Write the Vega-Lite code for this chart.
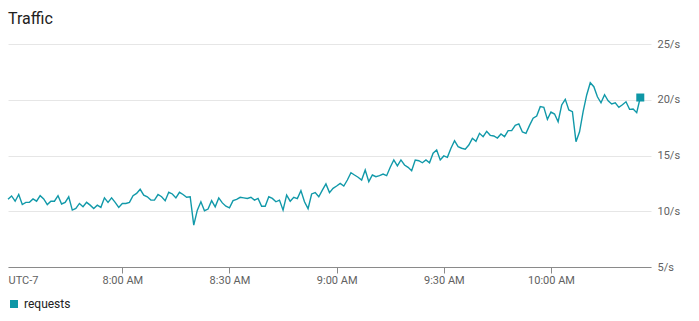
{
  "$schema": "https://vega.github.io/schema/vega-lite/v6.json",
  "width": 643,
  "height": 223,
  "autosize": {"type": "none"},
  "padding": {"left": 8, "top": 44, "right": 48, "bottom": 54},
  "background": "white",
  "title": {"text": "Traffic", "anchor": "start", "frame": "group", "font": "Roboto", "fontSize": 16, "fontWeight": "normal", "color": "#212121", "offset": 11},
  "config": {
    "view": {"stroke": null},
    "font": "Roboto",
    "axis": {"labelFont": "Roboto", "labelFontSize": 11, "labelColor": "#616161"},
    "legend": {"labelFont": "Roboto", "labelFontSize": 12, "labelColor": "#212121"}
  },
  "datasets": {
    "series": [
      {"t": "2024-01-01T07:28", "v": 11.07}, {"t": "2024-01-01T07:29", "v": 11.37}, {"t": "2024-01-01T07:30", "v": 10.9}, {"t": "2024-01-01T07:31", "v": 11.5},
      {"t": "2024-01-01T07:32", "v": 10.6}, {"t": "2024-01-01T07:33", "v": 10.8}, {"t": "2024-01-01T07:34", "v": 10.8}, {"t": "2024-01-01T07:35", "v": 11.1},
      {"t": "2024-01-01T07:36", "v": 10.9}, {"t": "2024-01-01T07:37", "v": 11.4}, {"t": "2024-01-01T07:38", "v": 11.1}, {"t": "2024-01-01T07:39", "v": 10.6},
      {"t": "2024-01-01T07:40", "v": 10.9}, {"t": "2024-01-01T07:41", "v": 10.9}, {"t": "2024-01-01T07:42", "v": 11.4}, {"t": "2024-01-01T07:43", "v": 10.65},
      {"t": "2024-01-01T07:44", "v": 10.8}, {"t": "2024-01-01T07:45", "v": 11.3}, {"t": "2024-01-01T07:46", "v": 10.1}, {"t": "2024-01-01T07:47", "v": 10.25},
      {"t": "2024-01-01T07:48", "v": 10.7}, {"t": "2024-01-01T07:49", "v": 10.4}, {"t": "2024-01-01T07:50", "v": 10.8}, {"t": "2024-01-01T07:51", "v": 10.55},
      {"t": "2024-01-01T07:52", "v": 10.25}, {"t": "2024-01-01T07:53", "v": 10.55}, {"t": "2024-01-01T07:54", "v": 10.35}, {"t": "2024-01-01T07:55", "v": 11.2},
      {"t": "2024-01-01T07:56", "v": 10.8}, {"t": "2024-01-01T07:57", "v": 11.2}, {"t": "2024-01-01T07:58", "v": 10.8}, {"t": "2024-01-01T07:59", "v": 10.35},
      {"t": "2024-01-01T08:00", "v": 10.7}, {"t": "2024-01-01T08:01", "v": 10.7}, {"t": "2024-01-01T08:02", "v": 10.8}, {"t": "2024-01-01T08:03", "v": 11.4},
      {"t": "2024-01-01T08:04", "v": 11.6}, {"t": "2024-01-01T08:05", "v": 11.97}, {"t": "2024-01-01T08:06", "v": 11.45}, {"t": "2024-01-01T08:07", "v": 11.3},
      {"t": "2024-01-01T08:08", "v": 11.0}, {"t": "2024-01-01T08:09", "v": 11.0}, {"t": "2024-01-01T08:10", "v": 11.5}, {"t": "2024-01-01T08:11", "v": 11.3},
      {"t": "2024-01-01T08:12", "v": 10.95}, {"t": "2024-01-01T08:13", "v": 11.7}, {"t": "2024-01-01T08:14", "v": 11.55}, {"t": "2024-01-01T08:15", "v": 11.2},
      {"t": "2024-01-01T08:16", "v": 11.7}, {"t": "2024-01-01T08:17", "v": 11.5}, {"t": "2024-01-01T08:18", "v": 11.25}, {"t": "2024-01-01T08:19", "v": 11.3},
      {"t": "2024-01-01T08:20", "v": 8.75}, {"t": "2024-01-01T08:21", "v": 10.1}, {"t": "2024-01-01T08:22", "v": 10.85}, {"t": "2024-01-01T08:23", "v": 10.05},
      {"t": "2024-01-01T08:24", "v": 10.2}, {"t": "2024-01-01T08:25", "v": 10.95}, {"t": "2024-01-01T08:26", "v": 10.4}, {"t": "2024-01-01T08:27", "v": 11.2},
      {"t": "2024-01-01T08:28", "v": 10.75}, {"t": "2024-01-01T08:29", "v": 10.45}, {"t": "2024-01-01T08:30", "v": 10.3}, {"t": "2024-01-01T08:31", "v": 10.95},
      {"t": "2024-01-01T08:32", "v": 11.07}, {"t": "2024-01-01T08:33", "v": 11.25}, {"t": "2024-01-01T08:34", "v": 11.2}, {"t": "2024-01-01T08:35", "v": 11.15},
      {"t": "2024-01-01T08:36", "v": 11.25}, {"t": "2024-01-01T08:37", "v": 11.0}, {"t": "2024-01-01T08:38", "v": 11.15}, {"t": "2024-01-01T08:39", "v": 10.45},
      {"t": "2024-01-01T08:40", "v": 10.45}, {"t": "2024-01-01T08:41", "v": 11.3}, {"t": "2024-01-01T08:42", "v": 11.15}, {"t": "2024-01-01T08:43", "v": 10.85},
      {"t": "2024-01-01T08:44", "v": 11.0}, {"t": "2024-01-01T08:45", "v": 10.1}, {"t": "2024-01-01T08:46", "v": 11.45}, {"t": "2024-01-01T08:47", "v": 10.9},
      {"t": "2024-01-01T08:48", "v": 11.25}, {"t": "2024-01-01T08:49", "v": 11.13}, {"t": "2024-01-01T08:50", "v": 11.85}, {"t": "2024-01-01T08:51", "v": 10.85},
      {"t": "2024-01-01T08:52", "v": 10.23}, {"t": "2024-01-01T08:53", "v": 11.55}, {"t": "2024-01-01T08:54", "v": 11.67}, {"t": "2024-01-01T08:55", "v": 11.3},
      {"t": "2024-01-01T08:56", "v": 11.9}, {"t": "2024-01-01T08:57", "v": 12.45}, {"t": "2024-01-01T08:58", "v": 11.67}, {"t": "2024-01-01T08:59", "v": 12.05},
      {"t": "2024-01-01T09:00", "v": 12.26}, {"t": "2024-01-01T09:01", "v": 12.5}, {"t": "2024-01-01T09:02", "v": 12.26}, {"t": "2024-01-01T09:03", "v": 12.8},
      {"t": "2024-01-01T09:04", "v": 13.46}, {"t": "2024-01-01T09:05", "v": 13.25}, {"t": "2024-01-01T09:06", "v": 13.05}, {"t": "2024-01-01T09:07", "v": 12.8},
      {"t": "2024-01-01T09:08", "v": 13.7}, {"t": "2024-01-01T09:09", "v": 12.65}, {"t": "2024-01-01T09:10", "v": 13.25}, {"t": "2024-01-01T09:11", "v": 13.1},
      {"t": "2024-01-01T09:12", "v": 13.19}, {"t": "2024-01-01T09:13", "v": 13.34}, {"t": "2024-01-01T09:14", "v": 13.19}, {"t": "2024-01-01T09:15", "v": 13.94},
      {"t": "2024-01-01T09:16", "v": 14.6}, {"t": "2024-01-01T09:17", "v": 14.06}, {"t": "2024-01-01T09:18", "v": 14.6}, {"t": "2024-01-01T09:19", "v": 14.15},
      {"t": "2024-01-01T09:20", "v": 13.94}, {"t": "2024-01-01T09:21", "v": 13.64}, {"t": "2024-01-01T09:22", "v": 14.6}, {"t": "2024-01-01T09:23", "v": 14.53},
      {"t": "2024-01-01T09:24", "v": 14.35}, {"t": "2024-01-01T09:25", "v": 14.6}, {"t": "2024-01-01T09:26", "v": 14.35}, {"t": "2024-01-01T09:27", "v": 15.2},
      {"t": "2024-01-01T09:28", "v": 15.5}, {"t": "2024-01-01T09:29", "v": 14.6}, {"t": "2024-01-01T09:30", "v": 14.96}, {"t": "2024-01-01T09:31", "v": 14.84},
      {"t": "2024-01-01T09:32", "v": 15.65}, {"t": "2024-01-01T09:33", "v": 16.33}, {"t": "2024-01-01T09:34", "v": 15.79}, {"t": "2024-01-01T09:35", "v": 15.65},
      {"t": "2024-01-01T09:36", "v": 15.56}, {"t": "2024-01-01T09:37", "v": 15.94}, {"t": "2024-01-01T09:38", "v": 16.54}, {"t": "2024-01-01T09:39", "v": 16.27},
      {"t": "2024-01-01T09:40", "v": 16.99}, {"t": "2024-01-01T09:41", "v": 16.69}, {"t": "2024-01-01T09:42", "v": 17.17}, {"t": "2024-01-01T09:43", "v": 16.81},
      {"t": "2024-01-01T09:44", "v": 16.75}, {"t": "2024-01-01T09:45", "v": 16.57}, {"t": "2024-01-01T09:46", "v": 16.93}, {"t": "2024-01-01T09:47", "v": 16.69},
      {"t": "2024-01-01T09:48", "v": 17.23}, {"t": "2024-01-01T09:49", "v": 17.23}, {"t": "2024-01-01T09:50", "v": 17.71}, {"t": "2024-01-01T09:51", "v": 17.83},
      {"t": "2024-01-01T09:52", "v": 17.11}, {"t": "2024-01-01T09:53", "v": 16.99}, {"t": "2024-01-01T09:54", "v": 17.7}, {"t": "2024-01-01T09:55", "v": 18.34},
      {"t": "2024-01-01T09:56", "v": 18.54}, {"t": "2024-01-01T09:57", "v": 19.38}, {"t": "2024-01-01T09:58", "v": 19.32}, {"t": "2024-01-01T09:59", "v": 18.24},
      {"t": "2024-01-01T10:00", "v": 18.9}, {"t": "2024-01-01T10:01", "v": 18.72}, {"t": "2024-01-01T10:02", "v": 18.03}, {"t": "2024-01-01T10:03", "v": 19.53},
      {"t": "2024-01-01T10:04", "v": 20.04}, {"t": "2024-01-01T10:05", "v": 19.08}, {"t": "2024-01-01T10:06", "v": 18.93}, {"t": "2024-01-01T10:07", "v": 16.24},
      {"t": "2024-01-01T10:08", "v": 17.13}, {"t": "2024-01-01T10:09", "v": 18.93}, {"t": "2024-01-01T10:10", "v": 20.43}, {"t": "2024-01-01T10:11", "v": 21.53},
      {"t": "2024-01-01T10:12", "v": 21.17}, {"t": "2024-01-01T10:13", "v": 20.27}, {"t": "2024-01-01T10:14", "v": 19.73}, {"t": "2024-01-01T10:15", "v": 20.45},
      {"t": "2024-01-01T10:16", "v": 19.91}, {"t": "2024-01-01T10:17", "v": 19.62}, {"t": "2024-01-01T10:18", "v": 19.73}, {"t": "2024-01-01T10:19", "v": 19.32},
      {"t": "2024-01-01T10:20", "v": 19.55}, {"t": "2024-01-01T10:21", "v": 19.82}, {"t": "2024-01-01T10:22", "v": 19.14}, {"t": "2024-01-01T10:23", "v": 19.17},
      {"t": "2024-01-01T10:24", "v": 18.84}, {"t": "2024-01-01T10:25", "v": 20.2}
    ],
    "last": [{"t": "2024-01-01T10:25", "v": 20.2}]
  },
  "encoding": {
    "x": {
      "field": "t", "type": "temporal", "title": null,
      "scale": {"domain": [{"year": 2024, "month": 1, "date": 1, "hours": 7, "minutes": 28}, {"year": 2024, "month": 1, "date": 1, "hours": 10, "minutes": 28}]},
      "axis": {
        "values": [
          {"year": 2024, "month": 1, "date": 1, "hours": 7, "minutes": 28},
          {"year": 2024, "month": 1, "date": 1, "hours": 8, "minutes": 0},
          {"year": 2024, "month": 1, "date": 1, "hours": 8, "minutes": 30},
          {"year": 2024, "month": 1, "date": 1, "hours": 9, "minutes": 0},
          {"year": 2024, "month": 1, "date": 1, "hours": 9, "minutes": 30},
          {"year": 2024, "month": 1, "date": 1, "hours": 10, "minutes": 0}
        ],
        "labelExpr": "hours(datum.value) < 8 ? 'UTC-7' : timeFormat(datum.value, '%-I:%M %p')",
        "labelFlush": true,
        "labelPadding": 1,
        "grid": false,
        "domainColor": "#8a8a8a",
        "tickColor": "#8a8a8a",
        "tickSize": 6,
        "tickOpacity": {"condition": {"test": "hours(datum.value) < 8", "value": 0}, "value": 1}
      }
    },
    "y": {
      "field": "v", "type": "quantitative", "title": null,
      "scale": {"domain": [5, 25], "nice": false, "zero": false},
      "axis": {
        "orient": "right",
        "values": [5, 10, 15, 20, 25],
        "labelExpr": "datum.value + '/s'",
        "domain": false,
        "ticks": false,
        "labelPadding": 6,
        "gridColor": "#e6e6e6",
        "gridWidth": 1
      }
    }
  },
  "layer": [
    {
      "data": {"name": "series"},
      "mark": {"type": "line", "color": "#1199a9", "strokeWidth": 1.4, "interpolate": "linear"}
    },
    {
      "data": {"name": "last"},
      "mark": {"type": "point", "shape": "square", "filled": true, "opacity": 1, "size": 64},
      "encoding": {
        "color": {
          "datum": "requests",
          "scale": {"range": ["#0e97a6"]},
          "legend": {"title": null, "orient": "bottom", "direction": "horizontal", "symbolType": "square", "symbolSize": 64, "labelFontSize": 12, "offset": 13, "symbolOffset": 0}
        }
      }
    }
  ]
}
